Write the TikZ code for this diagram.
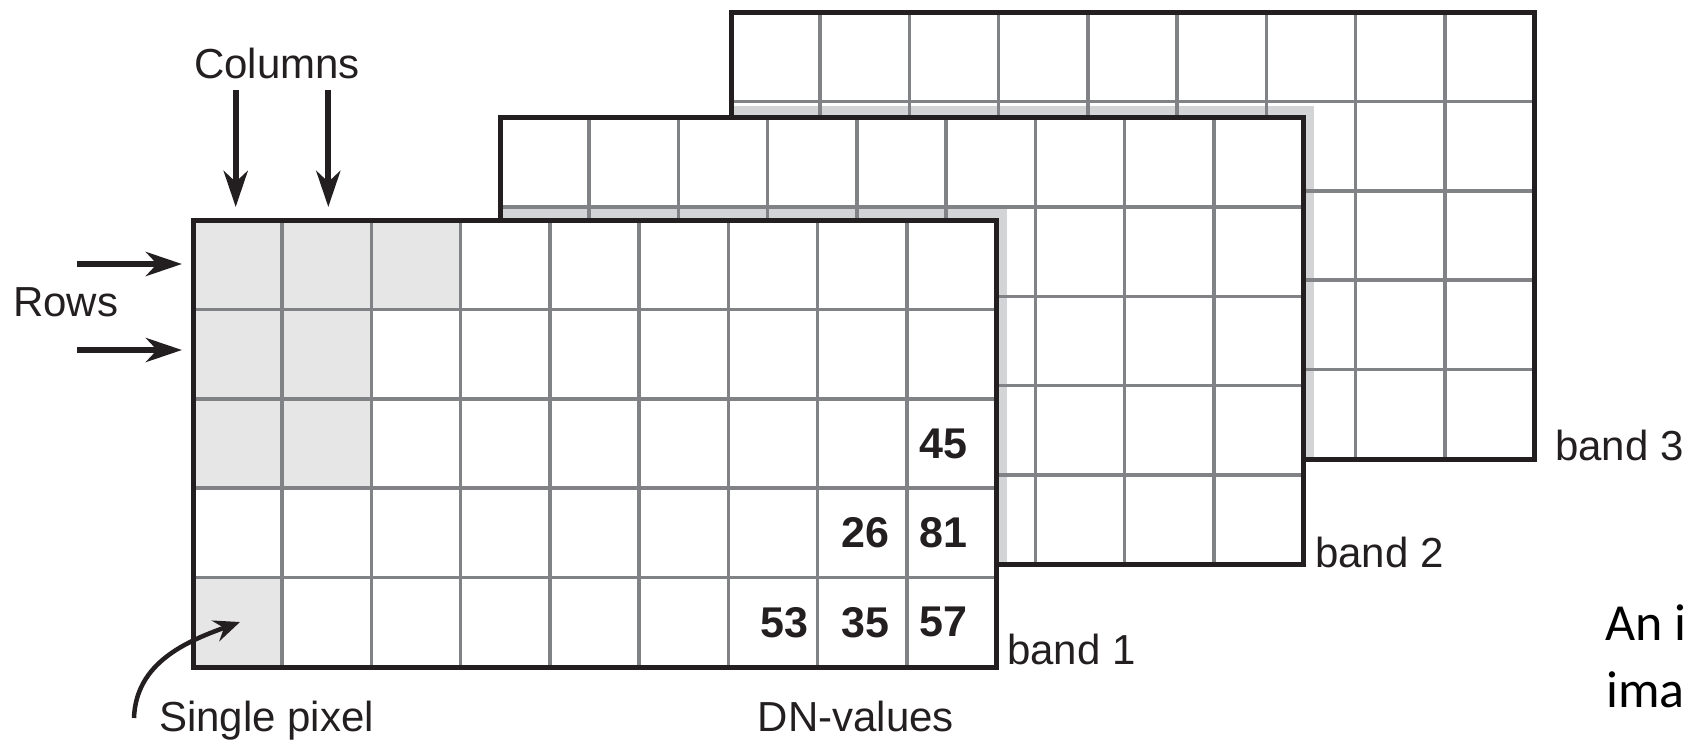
\documentclass[tikz,border=0pt]{standalone}
\usepackage{fontspec}
\setmainfont{Liberation Sans}
\newfontfamily\calibfont{Carlito}
\usetikzlibrary{arrows.meta}
\definecolor{gridgray}{HTML}{808285}
\definecolor{inkblack}{HTML}{231F20}
\definecolor{shadowgray}{HTML}{D3D4D6}
\definecolor{cellgray}{HTML}{E6E6E6}
\newcommand\bandfill[2]{\fill[white] (#1,#2) rectangle ++(803,447);}
\newcommand\bandlines[2]{%
  \foreach \i in {1,...,8} {\draw[gridline] ({#1+\i*89.222},#2) -- ++(0,447);}
  \foreach \j in {1,...,4} {\draw[gridline] (#1,{#2+\j*89.4}) -- ++(803,0);}
}
\begin{document}
\begin{tikzpicture}[x=1pt,y=-1pt,
  gridline/.style={draw=gridgray, line width=3.5pt},
  bandbox/.style={draw=inkblack, line width=5pt, minimum width=803pt, minimum height=447pt, inner sep=0pt, outer sep=0pt, anchor=north west},
  lbl/.style={font=\fontsize{42}{50}\selectfont, text=inkblack, inner sep=0pt},
  num/.style={font=\fontsize{43}{50}\selectfont\bfseries, text=inkblack, inner sep=0pt},
  bigarrow/.style={draw=inkblack, line width=6pt, -{Stealth[length=36pt,width=24pt,inset=11pt]}},
  curvearrow/.style={draw=inkblack, line width=4.5pt, -{Stealth[length=26pt,width=22pt,inset=9pt]}},
]
\useasboundingbox (0,0) rectangle (1688,742);

% ---------- band 3 ----------
\bandfill{731}{12}
\begin{scope}
  \clip (731,12) rectangle ++(803,447);
  \fill[shadowgray] (500,105.5) rectangle (1314,564.5);
\end{scope}
\bandlines{731}{12}
\node[bandbox] (band3) at (731,12) {};

% ---------- band 2 ----------
\bandfill{500}{117.5}
\begin{scope}
  \clip (500,117.5) rectangle ++(803,447);
  \fill[shadowgray] (193,208) rectangle (1007,667);
\end{scope}
\bandlines{500}{117.5}
\node[bandbox] (band2) at (500,117.5) {};

% ---------- band 1 ----------
\bandfill{193}{220}
\foreach \c/\r in {1/1,2/1,3/1,1/2,2/2,1/3,2/3,1/5} {
  \fill[cellgray] ({193+(\c-1)*89.222},{220+(\r-1)*89.4}) rectangle ++(89.222,89.4);
}
\bandlines{193}{220}
\node[bandbox] (band1) at (193,220) {};

% ---------- DN values ----------
\node[num] (v45) at (943.5,443.5) {45};
\node[num] (v26) at (865,533) {26};
\node[num] (v81) at (943.5,533) {81};
\node[num] (v53) at (784.5,622.3) {53};
\node[num] (v35) at (865,622.3) {35};
\node[num] (v57) at (943.5,622.3) {57};

% ---------- labels ----------
\node[lbl, anchor=base] (columns) at (277,78) {Columns};
\node[lbl, anchor=base west] (rows) at (13,316) {Rows};
\node[lbl, anchor=base west] (single) at (159,731) {Single pixel};
\node[lbl, anchor=base] (dn) at (856,731) {DN-values};
\node[lbl, anchor=base west] (lb1) at (1007,664) {band 1};
\node[lbl, anchor=base west] (lb2) at (1315,567) {band 2};
\node[lbl, anchor=base west] (lb3) at (1555,460) {band 3};

% ---------- arrows ----------
\coordinate (c1a) at (235.7,90);  \coordinate (c1b) at (235.7,207);
\coordinate (c2a) at (328.3,90);  \coordinate (c2b) at (328.3,207);
\coordinate (r1a) at (77,264);    \coordinate (r1b) at (182,264);
\coordinate (r2a) at (77,350);    \coordinate (r2b) at (182,350);
\draw[bigarrow] (c1a) -- (c1b);
\draw[bigarrow] (c2a) -- (c2b);
\draw[bigarrow] (r1a) -- (r1b);
\draw[bigarrow] (r2a) -- (r2b);
\coordinate (spa) at (134,718);
\coordinate (spb) at (240,622);
\draw[curvearrow] (spa) to[out=88,in=200] (spb);

% ---------- caption fragment at right edge ----------
\node[anchor=base west, inner sep=0pt, font=\calibfont\fontsize{52}{67}\selectfont] (cap1) at (1605,640) {An i};
\node[anchor=base west, inner sep=0pt, font=\calibfont\fontsize{52}{67}\selectfont] (cap2) at (1606,707) {ima};
\end{tikzpicture}
\end{document}
